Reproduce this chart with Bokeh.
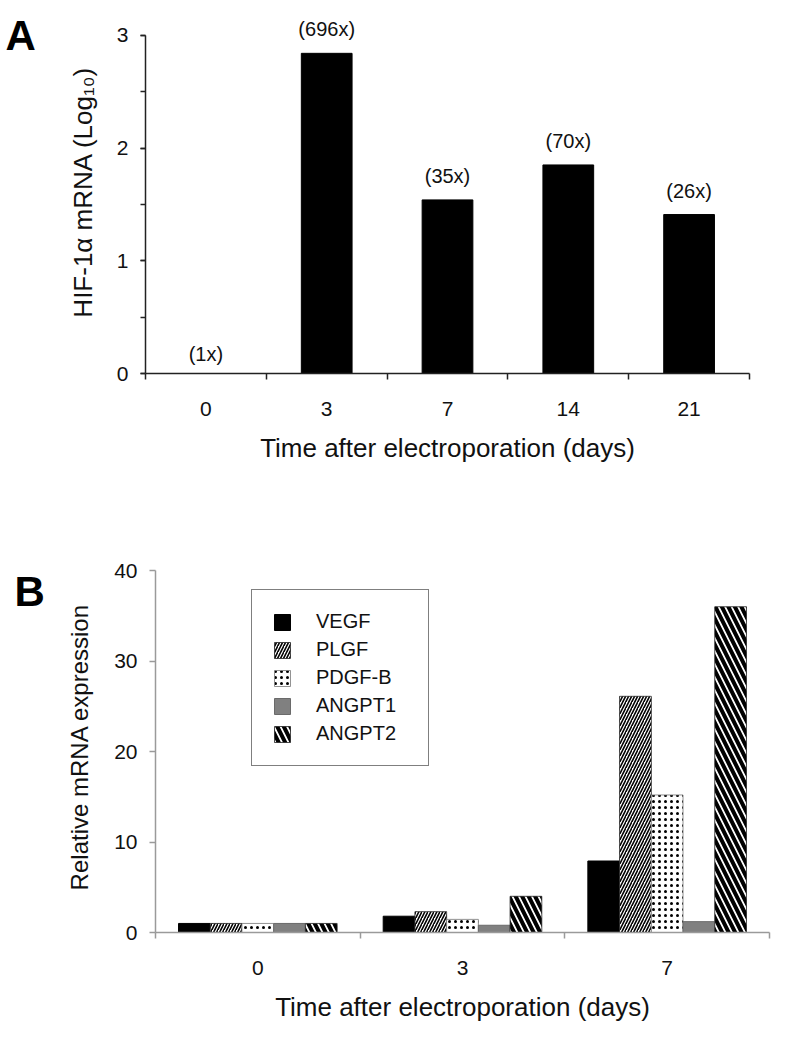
from bokeh.plotting import figure
from bokeh.models import FixedTicker, Legend, LegendItem, ColumnDataSource, Range1d
from bokeh.layouts import column, row
from bokeh.core.properties import value
from bokeh.embed import file_html
from bokeh.resources import INLINE

# ---------------- data ----------------
days_a = ["0", "3", "7", "14", "21"]
hif_log10 = [0.0, 2.84, 1.54, 1.85, 1.41]
fold_labels = ["(1x)", "(696x)", "(35x)", "(70x)", "(26x)"]

days_b = ["0", "3", "7"]
genes = ["VEGF", "PLGF", "PDGF-B", "ANGPT1", "ANGPT2"]
vegf = [1.0, 1.8, 7.9]
plgf = [1.0, 2.3, 26.1]
pdgfb = [1.0, 1.45, 15.2]
angpt1 = [1.0, 0.8, 1.2]
angpt2 = [1.0, 4.0, 36.0]

FONT = "Liberation Sans"
LW = 50          # width of the strip that carries the panel letter
W = 777 - LW
HA, HB = 480, 552


def letter_fig(letter, h, y_range, x_px, y_top):
    # frame of this strip is aligned with the panel's frame; share its y range
    f = figure(width=LW, height=h, output_backend="svg", toolbar_location=None,
               x_range=Range1d(0, LW), y_range=y_range,
               x_axis_type=None, y_axis_type=None, min_border=0)
    f.outline_line_color = None
    f.xgrid.grid_line_color = None
    f.ygrid.grid_line_color = None
    f.text(x=[x_px], y=[y_top], text=[letter], text_align="left",
           text_baseline="top", text_font=value(FONT), text_font_size="42px",
           text_font_style="bold", text_color="black")
    return f


# ---------------- panel A ----------------
pa = figure(width=W, height=HA, output_backend="svg", toolbar_location=None,
            x_range=Range1d(0, len(days_a)), y_range=Range1d(0, 3.22),
            min_border_left=145 - LW, min_border_right=28, min_border_top=10,
            min_border_bottom=107)
pa.outline_line_color = None
pa.xgrid.grid_line_color = None
pa.ygrid.grid_line_color = None

xa = [i + 0.5 for i in range(len(days_a))]
src_a = ColumnDataSource(dict(x=xa, top=hif_log10, lab=fold_labels,
                              off=[-9 if v == 0 else -13 for v in hif_log10]))
pa.vbar(x="x", top="top", bottom=0, width=0.42, source=src_a,
        fill_color="black", line_color="black")
pa.text(x="x", y="top", text="lab", source=src_a, y_offset="off",
        text_align="center", text_baseline="bottom",
        text_font=value(FONT), text_font_size="20px", text_color="#111111")

AX_A = "#222222"
pa.xaxis.ticker = FixedTicker(ticks=xa, minor_ticks=list(range(len(days_a) + 1)))
pa.xaxis.major_label_overrides = {x: d for x, d in zip(xa, days_a)}
pa.xaxis.major_tick_out = 0
pa.xaxis.major_tick_in = 0
pa.xaxis.minor_tick_out = 6
pa.xaxis.minor_tick_in = 0
pa.xaxis.major_label_standoff = 22
pa.xaxis.axis_label = "Time after electroporation (days)"
pa.xaxis.axis_label_standoff = 14

pa.yaxis.ticker = FixedTicker(ticks=[0, 1, 2, 3], minor_ticks=[0, 0.5, 1, 1.5, 2, 2.5, 3])
pa.yaxis.bounds = (0, 3)
pa.yaxis.major_tick_out = 5
pa.yaxis.major_tick_in = 0
pa.yaxis.minor_tick_out = 5
pa.yaxis.minor_tick_in = 0
pa.yaxis.major_label_standoff = 12
pa.yaxis.axis_label = "HIF-1α mRNA (Log₁₀)"
pa.yaxis.axis_label_standoff = 16

for ax in (pa.xaxis, pa.yaxis):
    ax.axis_line_color = AX_A
    ax.major_tick_line_color = AX_A
    ax.minor_tick_line_color = AX_A
    ax.axis_line_width = 1.5
    ax.major_tick_line_width = 1.5
    ax.minor_tick_line_width = 1.5
    ax.major_label_text_font = FONT
    ax.major_label_text_font_size = "21px"
    ax.major_label_text_color = "#111111"
    ax.axis_label_text_font = FONT
    ax.axis_label_text_font_style = "normal"
    ax.axis_label_text_color = "#111111"
pa.xaxis.axis_label_text_font_size = "26px"
pa.yaxis.axis_label_text_font_size = "26px"

# ---------------- panel B ----------------
pb = figure(width=W, height=HB, output_backend="svg", toolbar_location=None,
            x_range=Range1d(0, len(days_b)), y_range=Range1d(0, 41),
            min_border_left=155 - LW, min_border_right=8, min_border_top=81,
            min_border_bottom=100)
pb.outline_line_color = None
pb.xgrid.grid_line_color = None
pb.ygrid.grid_line_color = None

xb = [i + 0.5 for i in range(len(days_b))]
bw = 0.155
series = [vegf, plgf, pdgfb, angpt1, angpt2]
styles = [
    dict(fill_color="black", line_color="black", line_width=1),
    dict(fill_color="white", line_color="#222222", line_width=0.8,
         hatch_pattern="/", hatch_color="black", hatch_scale=6, hatch_weight=1.6),
    dict(fill_color="white", line_color="#777777", line_width=0.8,
         hatch_pattern=".", hatch_color="black", hatch_scale=6, hatch_weight=1.6),
    dict(fill_color="#808080", line_color="#6a6a6a", line_width=1),
    dict(fill_color="white", line_color="#222222", line_width=0.8,
         hatch_pattern="\\", hatch_color="black", hatch_scale=13, hatch_weight=4),
]
items = []
for j, (g, vals, st) in enumerate(zip(genes, series, styles)):
    xs = [x + (j - 2) * bw for x in xb]
    r = pb.vbar(x=xs, top=vals, bottom=0, width=bw, **st)
    items.append(LegendItem(label=g, renderers=[r]))

AX_B = "#9a9a9a"
pb.xaxis.ticker = FixedTicker(ticks=xb, minor_ticks=list(range(len(days_b) + 1)))
pb.xaxis.major_label_overrides = {x: d for x, d in zip(xb, days_b)}
pb.xaxis.major_tick_out = 0
pb.xaxis.major_tick_in = 0
pb.xaxis.minor_tick_out = 6
pb.xaxis.minor_tick_in = 0
pb.xaxis.major_label_standoff = 22
pb.xaxis.axis_label = "Time after electroporation (days)"
pb.xaxis.axis_label_standoff = 14

pb.yaxis.ticker = FixedTicker(ticks=[0, 10, 20, 30, 40], minor_ticks=[])
pb.yaxis.bounds = (0, 40)
pb.yaxis.major_tick_out = 6
pb.yaxis.major_tick_in = 0
pb.yaxis.major_label_standoff = 12
pb.yaxis.axis_label = "Relative mRNA expression"
pb.yaxis.axis_label_standoff = 18

for ax in (pb.xaxis, pb.yaxis):
    ax.axis_line_color = AX_B
    ax.major_tick_line_color = AX_B
    ax.minor_tick_line_color = AX_B
    ax.axis_line_width = 1.5
    ax.major_tick_line_width = 1.5
    ax.minor_tick_line_width = 1.5
    ax.major_label_text_font = FONT
    ax.major_label_text_font_size = "21px"
    ax.major_label_text_color = "#111111"
    ax.axis_label_text_font = FONT
    ax.axis_label_text_font_style = "normal"
    ax.axis_label_text_color = "#111111"
pb.xaxis.axis_label_text_font_size = "26px"
pb.yaxis.axis_label_text_font_size = "24px"

legend = Legend(items=items, location=(96, 166), orientation="vertical",
                padding=20, spacing=5, glyph_width=20, glyph_height=20,
                label_height=23, label_width=92, label_standoff=24, margin=0,
                border_line_color="black", border_line_width=1.5,
                background_fill_color="white", background_fill_alpha=1,
                label_text_font=FONT, label_text_font_size="20px",
                label_text_color="#111111")
pb.add_layout(legend, "center")

la = letter_fig("A", HA, pa.y_range, 5, 3.203)
lb = letter_fig("B", HB, pb.y_range, 14, 40.33)

page = column(row(la, pa, spacing=0), row(lb, pb, spacing=0), spacing=0)
open("out.html", "w").write(file_html(page, INLINE))
